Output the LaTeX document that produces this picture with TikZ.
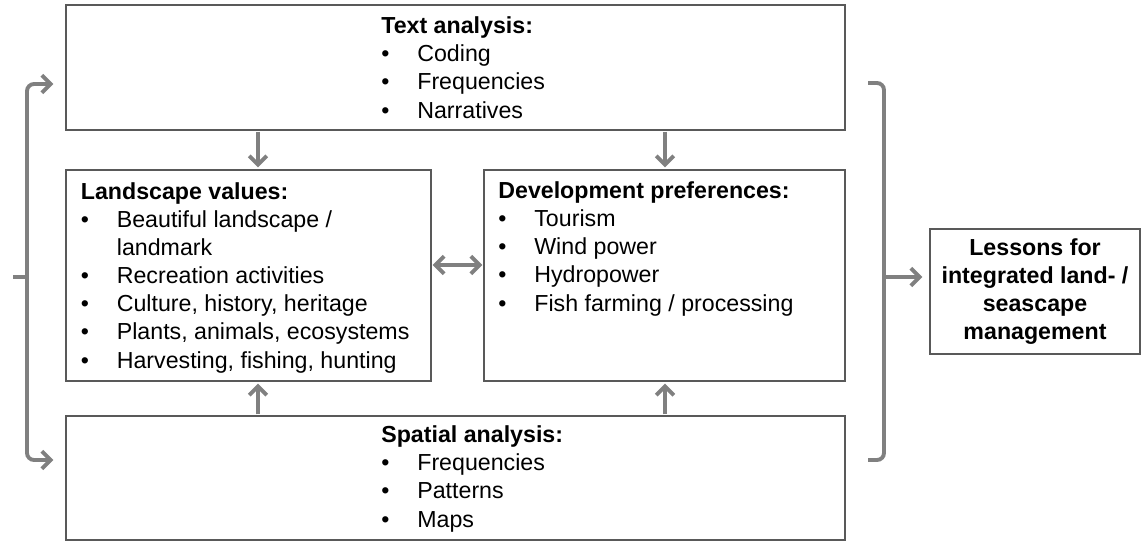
\documentclass[tikz,border=0pt]{standalone}
\usepackage{fontspec}
\setmainfont{Liberation Sans}
\usetikzlibrary{positioning,calc,arrows.meta}
\definecolor{BoxLine}{HTML}{595959}
\definecolor{ArrowGray}{HTML}{808080}
\newcommand{\bl}{\makebox[20.5pt][l]{\textbullet}}
\newcommand{\blgap}{\hspace*{20.5pt}}
\tikzset{
  box/.style={draw=BoxLine, line width=0.8pt, rectangle, inner sep=0pt},
  txt/.style={inner sep=0pt, align=left, anchor=base west, font=\fontsize{13.2}{16}\selectfont},
  arr/.style={draw=ArrowGray, line width=2.2pt, -{Straight Barb[length=5pt,width=10pt]}},
  darr/.style={draw=ArrowGray, line width=2.2pt, {Straight Barb[length=5pt,width=10pt]}-{Straight Barb[length=5pt,width=10pt]}},
  brace/.style={draw=ArrowGray, line width=2.2pt, rounded corners=4}
}

\begin{document}
\begin{tikzpicture}[x=0.02cm, y=-0.02cm]
        \useasboundingbox (0,0) rectangle (1141,541);

        % Boxes
        \node[box, minimum width=15.58cm, minimum height=2.5cm] (text) at (455.5,67.5) {};
        \node[box, minimum width=7.3cm, minimum height=4.22cm] (land) at (248.5,275.5) {};
        \node[box, minimum width=7.22cm, minimum height=4.22cm] (dev) at (664.5,275.5) {};
        \node[box, minimum width=15.58cm, minimum height=2.48cm] (spatial) at (455.5,478) {};
        \node[box, minimum width=4.2cm, minimum height=2.5cm, align=center,
              font=\fontsize{13.2}{16}\selectfont\bfseries] (lessons) at (1035,291.5)
              {Lessons for\\integrated land- /\\seascape\\management};

        % Box contents (anchored at the last line)
        \node[txt] (texttxt) at (381,118) {\textbf{Text analysis:}\\\bl Coding\\\bl Frequencies\\\bl Narratives};
        \node[txt] (landtxt) at (80.5,368) {\textbf{Landscape values:}\\\bl Beautiful landscape /\\\blgap landmark\\\bl Recreation activities\\\bl Culture, history, heritage\\\bl Plants, animals, ecosystems\\\bl Harvesting, fishing, hunting};
        \node[txt] (devtxt) at (498,311) {\textbf{Development preferences:}\\\bl Tourism\\\bl Wind power\\\bl Hydropower\\\bl Fish farming / processing};
        \node[txt] (spatialtxt) at (381,527) {\textbf{Spatial analysis:}\\\bl Frequencies\\\bl Patterns\\\bl Maps};

        % Arrows between boxes
        \draw[arr] ($(land.north |- text.south)+(9.5,1)$) -- ($(land.north)+(9.5,-2)$);
        \draw[arr] ($(dev.north |- text.south)+(0.5,1)$) -- ($(dev.north)+(0.5,-2)$);
        \draw[arr] ($(land.south |- spatial.north)+(9.5,-1)$) -- ($(land.south)+(9.5,2)$);
        \draw[arr] ($(dev.south |- spatial.north)+(0.5,-1)$) -- ($(dev.south)+(0.5,2)$);
        \draw[darr] ($(land.east)+(1,-10.5)$) -- ($(dev.west)+(-1,-10.5)$);

        % Left bracket
        \coordinate (lb) at (27,277);
        \draw[brace] (lb) -- ++(-14,0);
        \draw[brace, arr] (lb) |- ($(text.west)+(-12,16.5)$);
        \draw[brace, arr] (lb) |- ($(spatial.west)+(-12,-18)$);

        % Right bracket
        \coordinate (rb) at (884,277);
        \draw[brace] (868,83) -| (rb) |- (868,460);
        \draw[arr] (rb) -- ($(lessons.west |- rb)+(-7,0)$);
      \end{tikzpicture}
\end{document}
